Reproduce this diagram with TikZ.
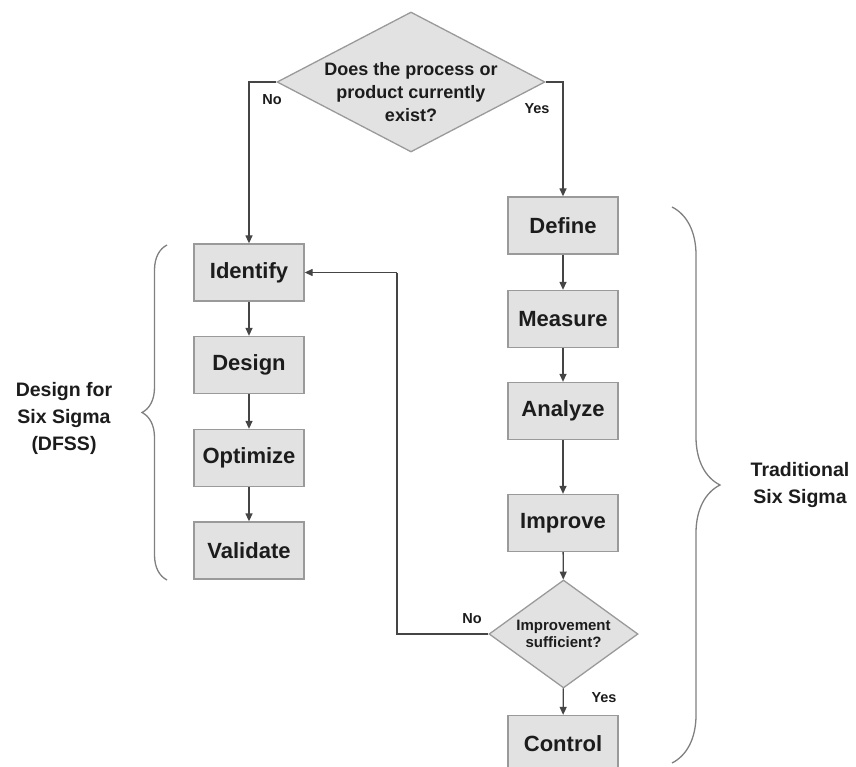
\documentclass[tikz,border=0pt]{standalone}
\usepackage{fontspec}
\setmainfont{Liberation Sans}
\usetikzlibrary{shapes.geometric}
\usetikzlibrary{arrows.meta}
\usetikzlibrary{decorations.pathreplacing}
\definecolor{boxfill}{HTML}{E2E2E2}
\definecolor{boxline}{HTML}{9A9A9A}
\definecolor{linkcol}{HTML}{454545}
\definecolor{inkcol}{HTML}{1C1C1C}
\definecolor{bracecol}{HTML}{808080}
\tikzset{
    stepbox/.style = {rectangle, draw=boxline, line width=1.3pt, fill=boxfill, minimum width=110pt, minimum height=57pt, text=inkcol, font=\fontsize{22}{26}\selectfont\bfseries},
    decision/.style = {diamond, draw=boxline, line width=1.3pt, fill=boxfill, inner sep=0pt},
    dtext/.style = {align=center, text=inkcol},
    edgen/.style = {-{Triangle[length=8pt,width=7pt]}, line width=1.3pt, draw=linkcol},
    edgel/.style = {line width=1.3pt, draw=linkcol},
    answer/.style = {text=inkcol, font=\fontsize{14.5}{17}\selectfont\bfseries},
    bracen/.style = {decorate, line width=1.3pt, draw=bracecol},
    side/.style = {align=center, text=inkcol, font=\fontsize{19.5}{27}\selectfont\bfseries}
}
\begin{document}
\begin{tikzpicture}[x=1pt,y=-1pt]
\useasboundingbox (0,0) rectangle (856,767);
%
\node[decision, minimum width=268pt, minimum height=140pt] at (411, 82) (exist) {};
\node[dtext, font=\fontsize{18}{23}\selectfont\bfseries] at (411, 92) (existtxt) {Does the process or\\product currently\\exist?};
%
\node[stepbox] at (249, 272.5) (identify) {Identify};
\node[stepbox] at (249, 365) (design) {Design};
\node[stepbox] at (249, 458) (optimize) {Optimize};
\node[stepbox] at (249, 550.5) (validate) {Validate};
%
\node[stepbox] at (563, 225.5) (define) {Define};
\node[stepbox] at (563, 319) (measure) {Measure};
\node[stepbox] at (563, 411) (analyze) {Analyze};
\node[stepbox] at (563, 523) (improve) {Improve};
\node[decision, minimum width=149pt, minimum height=108pt] at (563.5, 634) (enough) {};
\node[dtext, font=\fontsize{15}{17}\selectfont\bfseries] at (563.5, 634) (enoughtxt) {Improvement\\sufficient?};
\node[stepbox] at (563, 744) (control) {Control};
%
\coordinate (loop) at (397, 272.5);
%
\draw[edgen] (exist.west) -| (identify.north);
\draw[edgen] (exist.east) -| (define.north);
\node[answer] at (272, 100) (no1) {No};
\node[answer] at (537, 109) (yes1) {Yes};
%
\draw[edgen] (identify) -- (design);
\draw[edgen] (design) -- (optimize);
\draw[edgen] (optimize) -- (validate);
%
\draw[edgen] (define) -- (measure);
\draw[edgen] (measure) -- (analyze);
\draw[edgen] (analyze) -- (improve);
\draw[edgen] (improve) -- (enough);
\draw[edgen] (enough) -- (control);
\draw[edgel] (enough.west) -| (loop);
\draw[edgen] (loop) -- (identify.east);
\node[answer] at (472, 619) (no2) {No};
\node[answer] at (604, 698) (yes2) {Yes};
%
\draw[bracen, decoration={brace, amplitude=25pt}] (167, 580) -- (167, 245);
\draw[bracen, decoration={brace, amplitude=48pt}] (672, 207) -- (672, 763);
\node[side] at (64, 418) (dfss) {Design for\\Six Sigma\\(DFSS)};
\node[side] at (800, 485) (trad) {Traditional\\Six Sigma};
\end{tikzpicture}
\end{document}
